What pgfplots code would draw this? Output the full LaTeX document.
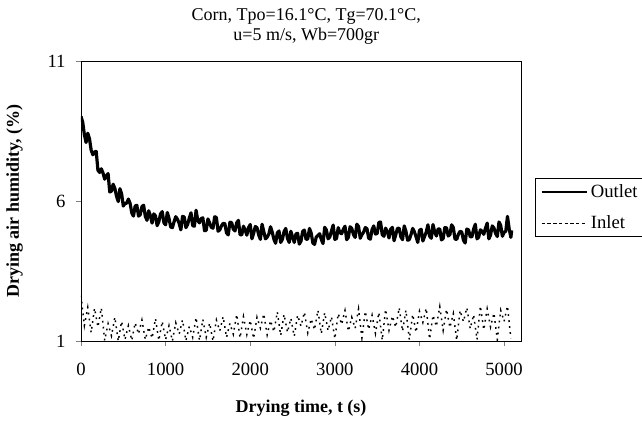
\documentclass[border=0pt]{standalone}
\usepackage{pgfplots}
\pgfplotsset{compat=1.18}
\usepackage{fontspec}
\setmainfont{Liberation Serif}
\begin{document}
\fontsize{11pt}{13pt}\selectfont
\begin{tikzpicture}
\useasboundingbox (-60.75pt,-60.75pt) rectangle (420.75pt,255.75pt);
\begin{axis}[
  scale only axis, width=330pt, height=210pt,
  xmin=0, xmax=5200, ymin=1, ymax=11,
  xtick={0,1000,2000,3000,4000,5000},
  ytick={1,6,11},
  xtick pos=bottom, ytick pos=left,
  tick align=outside, major tick length=3.75pt,
  /pgf/number format/assume math mode=true,
  /pgf/number format/1000 sep={},
  tick label style={font=\fontsize{14pt}{16pt}\selectfont},
  xticklabel shift=9pt,
  yticklabel shift=4pt,
  xlabel={\textbf{Drying time, t (s)}},
  ylabel={\textbf{Drying air humidity, (\%)}},
  label style={font=\fontsize{13.5pt}{15pt}\selectfont},
  xlabel shift=11pt,
  ylabel shift=11pt,
  title={Corn, Tpo=16.1°C, Tg=70.1°C,\\u=5 m/s, Wb=700gr},
  title style={align=center, font=\fontsize{13.5pt}{15pt}\selectfont, xshift=4pt, yshift=2.5pt},
  axis line style={line width=0.6pt},
  legend style={at={(rel axis cs:1.032,0.582)}, anchor=north west, draw=black, line width=0.4pt,
    font=\fontsize{14pt}{16pt}\selectfont, inner xsep=4pt, inner ysep=2.5pt, row sep=8pt, cells={anchor=west}},
  legend cell align=left,
]
\addplot[black, line width=2.4pt, line join=round,
  legend image code/.code={\draw[black,line width=1.6pt] (0pt,0pt) -- (34pt,0pt);}] coordinates {
(0,9.02) (20,8.82) (40,8.37) (60,8.09) (80,8.42) (100,8.23) (120,7.82) (140,7.65) (160,7.75) (180,7.77)
(200,7.10) (220,7.02) (240,7.15) (260,7.00) (280,6.78) (300,6.90) (320,6.98) (340,6.32) (360,6.35) (380,6.60)
(400,6.45) (420,6.17) (440,5.98) (460,6.44) (480,6.26) (500,5.82) (520,5.92) (540,5.92) (560,6.07) (580,5.92)
(600,5.58) (620,5.46) (640,5.82) (660,5.85) (680,5.46) (700,5.51) (720,5.80) (740,5.85) (760,5.45) (780,5.31)
(800,5.65) (820,5.48) (840,5.21) (860,5.54) (880,5.47) (900,5.12) (920,5.26) (940,5.54) (960,5.62) (980,5.22)
(1000,5.15) (1020,5.59) (1040,5.38) (1060,5.07) (1080,5.05) (1100,5.26) (1120,5.44) (1140,5.35) (1160,5.20) (1180,4.97)
(1200,5.45) (1220,5.43) (1240,5.05) (1260,5.16) (1280,5.39) (1300,5.58) (1320,5.12) (1340,5.10) (1360,5.67) (1380,5.30)
(1400,5.22) (1420,5.37) (1440,5.40) (1460,4.94) (1480,4.95) (1500,5.36) (1520,5.22) (1540,5.06) (1560,5.03) (1580,5.44)
(1600,5.41) (1620,4.92) (1640,4.97) (1660,5.11) (1680,5.20) (1700,5.19) (1720,4.86) (1740,4.79) (1760,5.24) (1780,5.23)
(1800,4.99) (1820,4.93) (1840,5.22) (1860,5.31) (1880,4.80) (1900,4.79) (1920,5.10) (1940,4.97) (1960,4.78) (1980,5.05)
(2000,5.16) (2020,4.65) (2040,4.84) (2060,5.09) (2080,5.05) (2100,4.79) (2120,4.63) (2140,5.17) (2160,4.91) (2180,4.65)
(2200,4.71) (2220,4.82) (2240,5.08) (2260,4.89) (2280,4.63) (2300,4.49) (2320,4.86) (2340,4.93) (2360,4.52) (2380,4.63)
(2400,4.91) (2420,5.02) (2440,4.67) (2460,4.52) (2480,4.92) (2500,4.72) (2520,4.52) (2540,4.82) (2560,4.85) (2580,4.46)
(2600,4.57) (2620,4.92) (2640,4.96) (2660,4.63) (2680,4.64) (2700,5.02) (2720,4.86) (2740,4.50) (2760,4.45) (2780,4.71)
(2800,4.77) (2820,4.83) (2840,4.63) (2860,4.48) (2880,5.06) (2900,4.97) (2920,4.65) (2940,4.71) (2960,4.93) (2980,5.14)
(3000,4.63) (3020,4.66) (3040,5.05) (3060,4.87) (3080,4.83) (3100,4.99) (3120,5.10) (3140,4.62) (3160,4.70) (3180,5.08)
(3200,5.02) (3220,4.80) (3240,4.70) (3260,5.17) (3280,5.09) (3300,4.67) (3320,4.80) (3340,4.89) (3360,5.05) (3380,5.01)
(3400,4.67) (3420,4.64) (3440,4.98) (3460,5.11) (3480,4.82) (3500,4.84) (3520,5.23) (3540,5.25) (3560,4.80) (3580,4.74)
(3600,5.03) (3620,4.91) (3640,4.68) (3660,4.99) (3680,5.06) (3700,4.58) (3720,4.80) (3740,5.02) (3760,5.03) (3780,4.72)
(3800,4.62) (3820,5.11) (3840,4.92) (3860,4.60) (3880,4.62) (3900,4.80) (3920,5.02) (3940,4.90) (3960,4.72) (3980,4.52)
(4000,4.95) (4020,4.99) (4040,4.57) (4060,4.73) (4080,4.89) (4100,5.15) (4120,4.74) (4140,4.67) (4160,5.16) (4180,4.89)
(4200,4.75) (4220,5.00) (4240,5.00) (4260,4.61) (4280,4.66) (4300,5.05) (4320,5.04) (4340,4.75) (4360,4.80) (4380,5.15)
(4400,5.05) (4420,4.64) (4440,4.63) (4460,4.81) (4480,4.92) (4500,4.89) (4520,4.60) (4540,4.50) (4560,5.00) (4580,4.97)
(4600,4.72) (4620,4.72) (4640,5.00) (4660,5.17) (4680,4.65) (4700,4.71) (4720,4.97) (4740,4.92) (4760,4.81) (4780,5.03)
(4800,5.21) (4820,4.65) (4840,4.78) (4860,5.11) (4880,5.04) (4900,4.84) (4920,4.73) (4940,5.25) (4960,5.13) (4980,4.74)
(5000,4.88) (5020,4.92) (5040,5.45) (5060,5.01) (5080,4.70) (5090,4.95)
};
\addlegendentry{Outlet}
\addplot[black, line width=1.1pt, dash pattern=on 1.3pt off 3.2pt,
  legend image code/.code={\draw[black,line width=0.6pt,dash pattern=on 2.5pt off 1.8pt] (0pt,0pt) -- (34pt,0pt);}] coordinates {
(0,2.62) (40,1.55) (80,2.20) (120,1.30) (160,2.17) (200,1.50) (240,2.18) (280,1.02)
(320,1.62) (360,1.18) (400,1.85) (440,1.00) (480,1.70) (520,1.05) (560,1.55) (600,1.02)
(640,1.65) (680,1.25) (720,1.75) (760,1.05) (800,1.50) (840,1.10) (880,1.80) (920,1.02)
(960,1.70) (1000,1.05) (1040,1.55) (1080,1.00) (1120,1.65) (1160,1.25) (1200,1.75) (1240,1.01)
(1280,1.52) (1320,1.13) (1360,1.84) (1400,1.02) (1440,1.77) (1480,1.13) (1520,1.64) (1560,1.00)
(1600,1.75) (1640,1.36) (1680,1.87) (1720,1.13) (1760,1.63) (1800,1.24) (1840,1.95) (1880,1.11)
(1920,1.87) (1960,1.23) (2000,1.74) (2040,1.09) (2080,1.85) (2120,1.46) (2160,1.97) (2200,1.22)
(2240,1.73) (2280,1.33) (2320,2.04) (2360,1.20) (2400,1.95) (2440,1.31) (2480,1.81) (2520,1.17)
(2560,1.92) (2600,1.53) (2640,2.03) (2680,1.29) (2720,1.79) (2760,1.40) (2800,2.10) (2840,1.26)
(2880,2.01) (2920,1.37) (2960,1.87) (3000,1.08) (3040,1.98) (3080,1.59) (3120,2.09) (3160,1.35)
(3200,1.85) (3240,1.45) (3280,2.15) (3320,1.11) (3360,2.06) (3400,1.41) (3440,1.92) (3480,1.27)
(3520,2.02) (3560,1.03) (3600,2.13) (3640,1.38) (3680,1.89) (3720,1.49) (3760,2.19) (3800,1.35)
(3840,2.10) (3880,1.05) (3920,1.95) (3960,1.31) (4000,2.06) (4040,1.66) (4080,2.17) (4120,1.07)
(4160,1.92) (4200,1.52) (4240,2.23) (4280,1.38) (4320,2.13) (4360,1.48) (4400,1.98) (4440,1.03)
(4480,2.09) (4520,1.69) (4560,2.19) (4600,1.44) (4640,1.94) (4680,1.05) (4720,2.25) (4760,1.40)
(4800,2.15) (4840,1.50) (4880,2.00) (4920,1.05) (4960,2.10) (5000,1.70) (5040,2.25) (5080,1.10)
};
\addlegendentry{Inlet}
\end{axis}
\end{tikzpicture}
\end{document}
